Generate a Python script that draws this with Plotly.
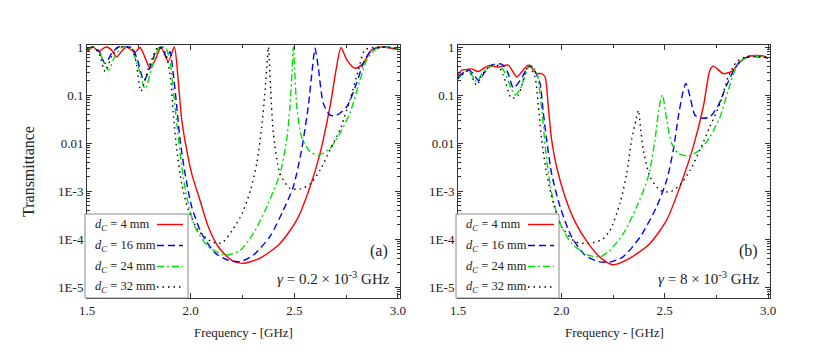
import plotly.graph_objects as go

W, H = 817, 361

# ---- data: panel (a), gamma = 0.2e-3 GHz ----
f_a_4 = [1.50, 1.53, 1.555, 1.58, 1.595, 1.62, 1.643, 1.67, 1.691, 1.732, 1.756, 1.78, 1.804, 1.83, 1.857,
         1.892, 1.921, 1.94, 1.957, 1.981, 2.005, 2.045, 2.085, 2.133, 2.198, 2.25, 2.335, 2.431, 2.512,
         2.576, 2.624, 2.672, 2.704, 2.725, 2.753, 2.793, 2.833, 2.873, 2.93, 3.0]
t_a_4 = [0.8, 1.0, 0.8, 0.95, 1.0, 0.85, 0.62, 0.85, 1.0, 0.78, 0.98, 0.6, 0.36, 0.55, 0.97,
         0.5, 1.0, 0.2, 0.03, 7.1e-3, 2.3e-3, 6.4e-4, 1.8e-4, 6.9e-5, 3.6e-5, 3.1e-5, 4.0e-5, 8.1e-5, 2.5e-4,
         1.23e-3, 6.1e-3, 0.057, 0.39, 0.98, 0.54, 0.36, 0.46, 0.87, 1.0, 0.88]

f_a_16 = [1.50, 1.53, 1.56, 1.587, 1.62, 1.651, 1.68, 1.715, 1.74, 1.775, 1.81, 1.835, 1.86, 1.885, 1.9,
          1.916, 1.933, 1.949, 1.973, 2.005, 2.053, 2.118, 2.182, 2.24, 2.302, 2.383, 2.447, 2.495, 2.535,
          2.567, 2.588, 2.60, 2.615, 2.64, 2.672, 2.704, 2.753, 2.80, 2.833, 2.873, 2.93, 3.0]
t_a_16 = [0.9, 1.0, 0.8, 0.45, 0.75, 1.0, 1.0, 0.98, 0.6, 0.2, 0.45, 0.85, 1.0, 0.6, 0.8,
          0.28, 0.057, 0.0116, 2.3e-3, 4.7e-4, 1.3e-4, 5.1e-5, 3.6e-5, 3.4e-5, 4.6e-5, 1.14e-4, 4.0e-4, 1.23e-3, 7.2e-3,
          0.057, 0.39, 0.94, 0.39, 0.067, 0.038, 0.038, 0.057, 0.175, 0.46, 0.87, 1.0, 0.93]

f_a_24 = [1.50, 1.53, 1.56, 1.603, 1.635, 1.67, 1.70, 1.72, 1.75, 1.78, 1.815, 1.85, 1.88, 1.9, 1.916,
          1.933, 1.957, 1.981, 2.021, 2.085, 2.166, 2.238, 2.302, 2.367, 2.431, 2.463, 2.479, 2.49, 2.495,
          2.512, 2.535, 2.576, 2.616, 2.672, 2.72, 2.768, 2.817, 2.849, 2.897, 2.94, 3.0]
t_a_24 = [0.9, 1.0, 0.75, 0.33, 0.65, 1.0, 0.95, 0.8, 0.35, 0.135, 0.4, 1.0, 0.95, 0.5, 0.127,
          0.026, 3.2e-3, 7.6e-4, 1.8e-4, 6.9e-5, 4.6e-5, 5.8e-5, 1.3e-4, 4.7e-4, 2.3e-3, 0.0116, 0.057, 0.39, 1.0,
          0.057, 0.0135, 6.6e-3, 5.6e-3, 7.7e-3, 0.016, 0.042, 0.205, 0.54, 0.94, 1.0, 0.93]

f_a_32 = [1.50, 1.53, 1.56, 1.587, 1.62, 1.651, 1.69, 1.72, 1.74, 1.76, 1.80, 1.843, 1.875, 1.9, 1.916,
          1.933, 1.957, 1.989, 2.037, 2.101, 2.15, 2.20, 2.25, 2.29, 2.32, 2.343, 2.359, 2.37, 2.375,
          2.386, 2.399, 2.431, 2.479, 2.528, 2.576, 2.624, 2.672, 2.72, 2.768, 2.809, 2.841, 2.9, 3.0]
t_a_32 = [0.88, 1.0, 0.7, 0.31, 0.65, 1.0, 1.0, 0.9, 0.4, 0.12, 0.4, 1.0, 0.8, 0.28, 0.042,
          7.2e-3, 1.4e-3, 4.0e-4, 1.5e-4, 8.8e-5, 8.3e-5, 1.5e-4, 3.5e-4, 1.1e-3, 4.0e-3, 0.022, 0.127, 0.54, 1.0,
          0.127, 0.016, 2.3e-3, 1.14e-3, 1.1e-3, 1.4e-3, 2.7e-3, 7.2e-3, 0.019, 0.078, 0.33, 0.87, 1.0, 0.93]

# ---- data: panel (b), gamma = 8e-3 GHz ----
f_b_4 = [1.50, 1.518, 1.545, 1.566, 1.598, 1.647, 1.695, 1.743, 1.784, 1.84, 1.881, 1.905, 1.921, 1.937,
         1.953, 1.977, 2.018, 2.066, 2.13, 2.195, 2.25, 2.332, 2.429, 2.51, 2.574, 2.638, 2.687, 2.719,
         2.735, 2.784, 2.824, 2.864, 2.913, 2.977, 3.0]
t_b_4 = [0.26, 0.33, 0.34, 0.35, 0.31, 0.41, 0.38, 0.42, 0.24, 0.42, 0.28, 0.28, 0.24, 0.057,
         0.0116, 3.2e-3, 7.6e-4, 2.3e-4, 8.1e-5, 3.9e-5, 2.9e-5, 4.0e-5, 8.1e-5, 2.5e-4, 1.23e-3, 8.3e-3, 0.057, 0.33,
         0.4, 0.28, 0.31, 0.49, 0.65, 0.65, 0.58]

f_b_16 = [1.50, 1.55, 1.574, 1.60, 1.63, 1.663, 1.711, 1.74, 1.768, 1.80, 1.848, 1.875, 1.888, 1.897,
          1.913, 1.929, 1.953, 1.994, 2.05, 2.115, 2.179, 2.235, 2.30, 2.381, 2.461, 2.51, 2.542, 2.566,
          2.587, 2.603, 2.623, 2.647, 2.679, 2.719, 2.76, 2.80, 2.84, 2.88, 2.93, 3.0]
t_b_16 = [0.24, 0.33, 0.28, 0.2, 0.3, 0.42, 0.44, 0.3, 0.14, 0.2, 0.42, 0.3, 0.22, 0.175,
          0.042, 0.0116, 2.3e-3, 4.7e-4, 1.1e-4, 4.6e-5, 3.4e-5, 3.3e-5, 4.3e-5, 1.1e-4, 4.7e-4, 1.7e-3, 7.2e-3, 0.035,
          0.108, 0.175, 0.092, 0.038, 0.033, 0.035, 0.062, 0.16, 0.36, 0.58, 0.63, 0.6]

f_b_24 = [1.50, 1.55, 1.59, 1.62, 1.67, 1.695, 1.72, 1.776, 1.80, 1.848, 1.88, 1.897, 1.913, 1.929,
          1.953, 1.994, 2.05, 2.13, 2.19, 2.235, 2.30, 2.365, 2.421, 2.453, 2.474, 2.489, 2.51, 2.534,
          2.566, 2.614, 2.671, 2.719, 2.768, 2.808, 2.848, 2.897, 2.94, 3.0]
t_b_24 = [0.22, 0.32, 0.19, 0.3, 0.42, 0.42, 0.33, 0.1, 0.13, 0.42, 0.3, 0.108, 0.022, 4.4e-3,
          9.1e-4, 2.1e-4, 8.1e-5, 4.6e-5, 4.3e-5, 5.8e-5, 1.3e-4, 4.7e-4, 2.0e-3, 0.0116, 0.057, 0.1, 0.03, 9.8e-3,
          6.1e-3, 5.4e-3, 7.2e-3, 0.0135, 0.035, 0.127, 0.39, 0.63, 0.65, 0.6]

f_b_32 = [1.50, 1.55, 1.59, 1.62, 1.663, 1.695, 1.719, 1.76, 1.792, 1.84, 1.872, 1.889, 1.905, 1.929,
          1.961, 2.002, 2.066, 2.13, 2.195, 2.235, 2.284, 2.316, 2.34, 2.361, 2.373, 2.384, 2.397, 2.429,
          2.477, 2.526, 2.574, 2.623, 2.671, 2.719, 2.768, 2.808, 2.848, 2.897, 3.0]
t_b_32 = [0.22, 0.32, 0.16, 0.28, 0.42, 0.4, 0.26, 0.085, 0.1, 0.41, 0.24, 0.057, 0.0116, 2.3e-3,
          5.6e-4, 1.8e-4, 8.8e-5, 8.1e-5, 9.6e-5, 1.5e-4, 5.6e-4, 2.3e-3, 0.0116, 0.03, 0.048, 0.019, 7.2e-3, 2.0e-3,
          1.04e-3, 9.6e-4, 1.34e-3, 2.7e-3, 7.2e-3, 0.022, 0.067, 0.24, 0.49, 0.63, 0.6]

labels = ["4", "16", "24", "32"]
colors = ["#ff0000", "#0000ff", "#00e000", "#000000"]
dashes = ["solid", "7px,4px", "7px,3px,2px,3px", "1.5px,4px"]
y_ticks = [1e-5, 1e-4, 1e-3, 1e-2, 1e-1, 1]
y_text = ["1E-5", "1E-4", "1E-3", "0.01", "0.1", "1"]

FONT = "Liberation Serif"

panels = [
    ("x", "y", [(f_a_4, t_a_4), (f_a_16, t_a_16), (f_a_24, t_a_24), (f_a_32, t_a_32)]),
    ("x2", "y2", [(f_b_4, t_b_4), (f_b_16, t_b_16), (f_b_24, t_b_24), (f_b_32, t_b_32)]),
]

fig = go.Figure()
for xa, ya, series in panels:
    for (f, t), lab, c, d in zip(series, labels, colors, dashes):
        fig.add_trace(go.Scatter(x=f, y=t, xaxis=xa, yaxis=ya, mode="lines",
                                 line=dict(color=c, dash=d, width=1.4, shape="spline", smoothing=0.7),
                                 name=lab, showlegend=False))

# layout in screen pixels (page body adds an 8px offset)
OFF = 8
ax_left = [87, 458]
ax_right = [400, 770]
ax_top, ax_bot = 45, 298


def px(x):
    return (x - OFF) / W


def py(y):
    return 1 - (y - OFF) / H


xaxis_common = dict(range=[1.5, 3.0097], tickvals=[1.5, 2.0, 2.5, 3.0], ticktext=["1.5", "2.0", "2.5", "3.0"],
                    ticks="inside", ticklen=5, tickcolor="#333", showline=True, linecolor="#333", linewidth=1,
                    mirror="ticks", showgrid=False, zeroline=False, automargin=False,
                    minor=dict(ticks="inside", ticklen=3, tickcolor="#333", dtick=0.25, tick0=1.5),
                    tickfont=dict(family=FONT, size=13, color="#222"))
yaxis_common = dict(type="log", range=[-5.229, 0.042], tickvals=y_ticks, ticktext=y_text,
                    ticks="inside", ticklen=5, tickcolor="#333", showline=True, linecolor="#333", linewidth=1,
                    mirror="ticks", showgrid=False, zeroline=False, automargin=False,
                    minor=dict(ticks="inside", ticklen=3, tickcolor="#333", dtick="D1"),
                    tickfont=dict(family=FONT, size=13, color="#222"))

fig.update_layout(
    width=W, height=H,
    margin=dict(l=0, r=0, t=0, b=0, pad=0, autoexpand=False),
    paper_bgcolor="white", plot_bgcolor="white",
    xaxis=dict(domain=[px(ax_left[0]), px(ax_right[0])], anchor="y", **xaxis_common),
    yaxis=dict(domain=[py(ax_bot), py(ax_top)], anchor="x", **yaxis_common),
    xaxis2=dict(domain=[px(ax_left[1]), px(ax_right[1])], anchor="y2", **xaxis_common),
    yaxis2=dict(domain=[py(ax_bot), py(ax_top)], anchor="x2", **yaxis_common),
    font=dict(family=FONT, color="#222"),
)

ann = []
shapes = []
# axis titles
ann.append(dict(x=px(28), y=py(172), xref="paper", yref="paper", text="Transmittance", textangle=-90,
                xanchor="center", yanchor="middle", showarrow=False, font=dict(family=FONT, size=16)))
for i in range(2):
    mid = (ax_left[i] + ax_right[i]) / 2
    ann.append(dict(x=px(mid), y=py(332), xref="paper", yref="paper", text="Frequency - [GHz]",
                    xanchor="center", yanchor="middle", showarrow=False, font=dict(family=FONT, size=13)))

panel_tags = ["(a)", "(b)"]
gammas = ["<i>γ</i> = 0.2 × 10<sup>-3</sup> GHz", "<i>γ</i> = 8 × 10<sup>-3</sup> GHz"]
for i in range(2):
    ann.append(dict(x=px(ax_right[i] - 10), y=py(251), xref="paper", yref="paper", text=panel_tags[i],
                    xanchor="right", yanchor="middle", align="right", showarrow=False,
                    font=dict(family=FONT, size=16)))
    ann.append(dict(x=px(ax_right[i] - 8), y=py(278), xref="paper", yref="paper", text=gammas[i],
                    xanchor="right", yanchor="middle", align="right", showarrow=False,
                    font=dict(family=FONT, size=15)))
    # custom legend (text left, line sample right)
    L = ax_left[i]
    shapes.append(dict(type="rect", xref="paper", yref="paper", x0=px(L - 2), x1=px(L + 101),
                       y0=py(ax_bot), y1=py(214), line=dict(color="#888", width=1), fillcolor="white",
                       layer="above"))
    ys = [224.5, 245.5, 266.5, 287]
    for lab, c, d, yy in zip(labels, colors, dashes, ys):
        ann.append(dict(x=px(L + 6), y=py(yy), xref="paper", yref="paper", xanchor="left", yanchor="middle",
                        align="left", text="<i>d</i><sub><i>C</i></sub> = %s mm" % lab, showarrow=False,
                        font=dict(family=FONT, size=12.5)))
        shapes.append(dict(type="line", xref="paper", yref="paper", x0=px(L + 70), x1=px(L + 96),
                           y0=py(yy), y1=py(yy), line=dict(color=c, dash=d, width=1.4), layer="above"))

fig.update_layout(annotations=ann, shapes=shapes)
fig.write_html("out.html")
